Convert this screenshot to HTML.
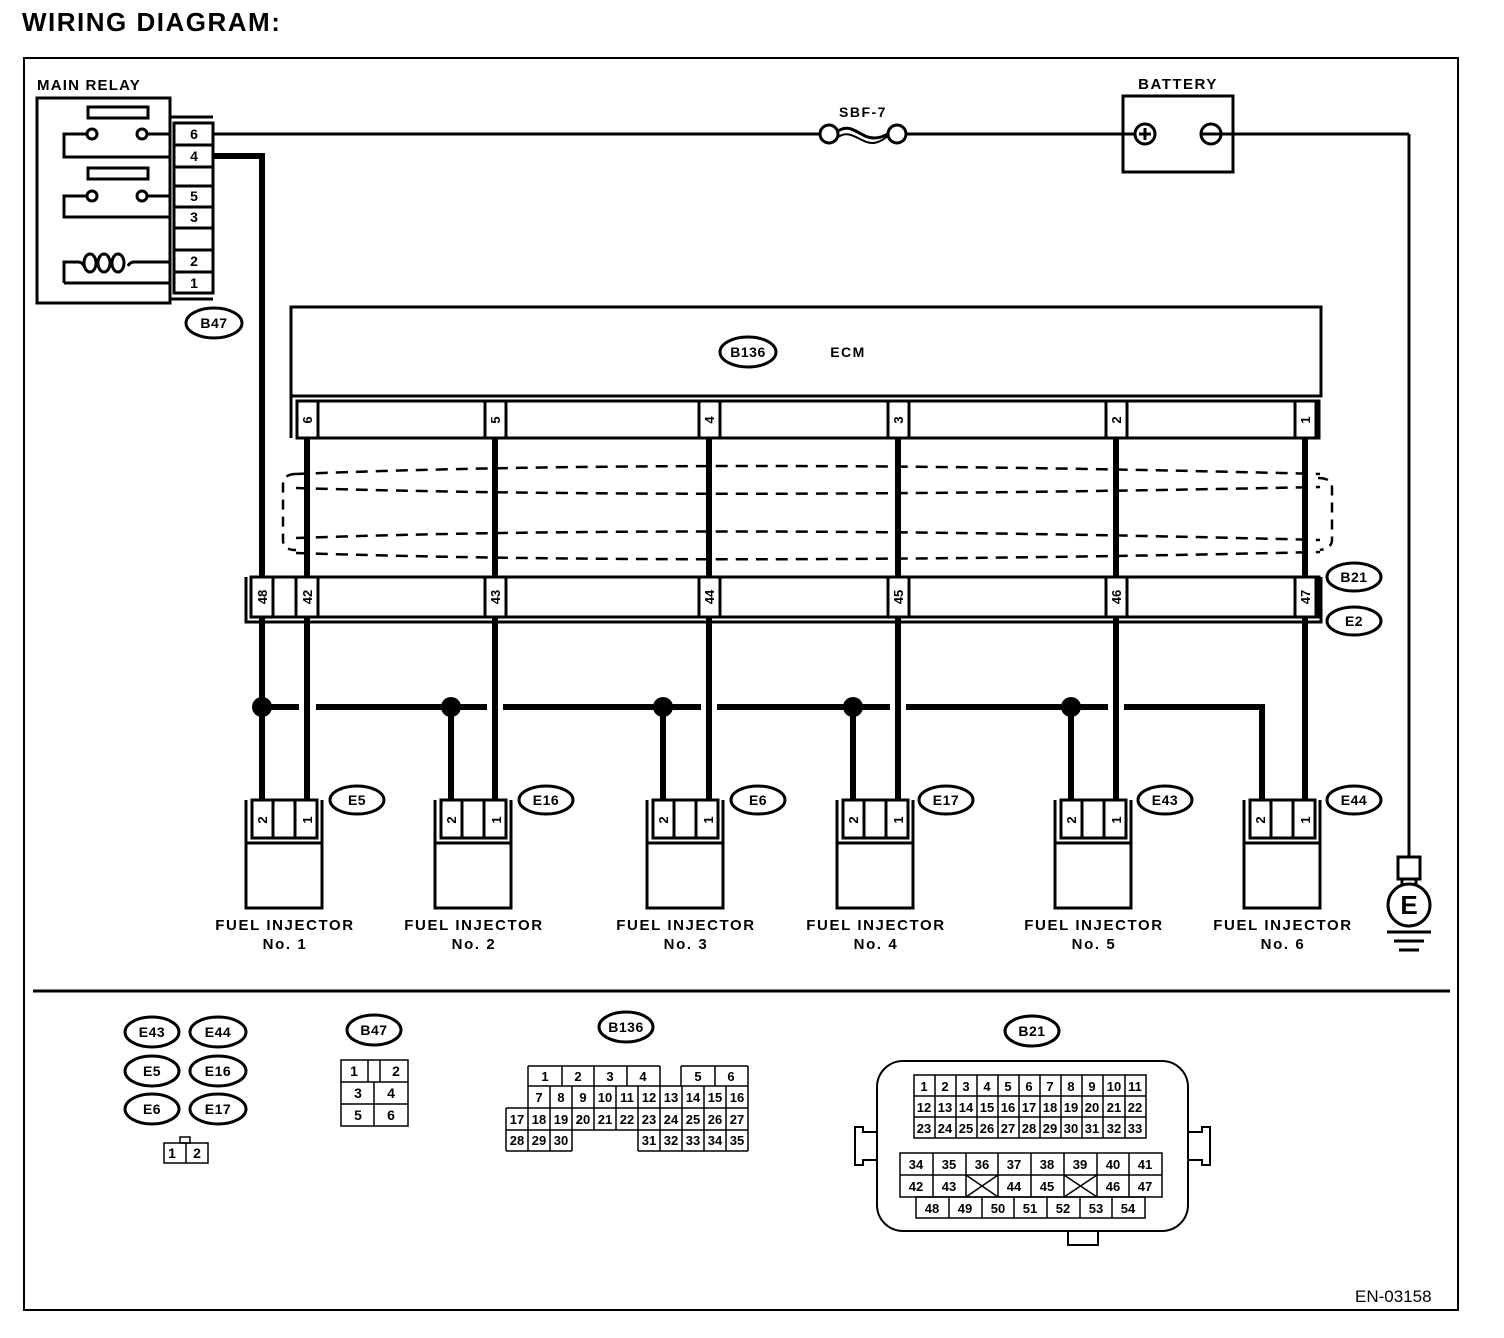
<!DOCTYPE html>
<html><head><meta charset="utf-8"><style>
html,body{margin:0;padding:0;background:#fff}
svg{display:block}
text{font-family:"Liberation Sans",Arial,sans-serif;font-weight:bold;fill:#000}
</style></head><body>
<svg width="1504" height="1338" viewBox="0 0 1504 1338" xmlns="http://www.w3.org/2000/svg">
<text x="22" y="31" font-size="26" letter-spacing="1.5">WIRING DIAGRAM:</text>
<rect x="24" y="58" width="1434" height="1252" fill="none" stroke="#000" stroke-width="2"/>
<line x1="33" y1="991" x2="1450" y2="991" stroke="#000" stroke-width="3"/>
<text x="1355" y="1302" font-size="17" style="font-weight:normal">EN-03158</text>

<g fill="none" stroke="#000" stroke-width="3">
<rect x="37" y="98" width="133" height="205"/>
<rect x="88" y="107" width="60" height="11"/>
<rect x="88" y="168" width="60" height="11"/>
<circle cx="92" cy="134" r="5"/><circle cx="142" cy="134" r="5"/>
<circle cx="92" cy="196" r="5"/><circle cx="142" cy="196" r="5"/>
<polyline points="87,134 64,134 64,157 170,157"/>
<line x1="147" y1="134" x2="170" y2="134"/>
<polyline points="87,196 64,196 64,217 170,217"/>
<line x1="147" y1="196" x2="170" y2="196"/>
<path d="M170,262 L134,262 Q130,262 128,266"/>
<path d="M64,283 L64,262 L78,262 Q82,262 84,266"/>
<ellipse cx="90" cy="263" rx="6" ry="9"/>
<ellipse cx="104" cy="263" rx="6" ry="9"/>
<ellipse cx="118" cy="263" rx="6" ry="9"/>
<line x1="64" y1="283" x2="170" y2="283"/>
<polyline points="170,117 213,117"/><polyline points="170,299 213,299"/>
<rect x="174" y="123" width="39" height="170"/>
<line x1="174" y1="145" x2="213" y2="145"/>
<line x1="174" y1="167" x2="213" y2="167"/>
<line x1="174" y1="186" x2="213" y2="186"/>
<line x1="174" y1="207" x2="213" y2="207"/>
<line x1="174" y1="228" x2="213" y2="228"/>
<line x1="174" y1="250" x2="213" y2="250"/>
<line x1="174" y1="272" x2="213" y2="272"/>
</g>
<text x="37" y="90" font-size="15" letter-spacing="1.2">MAIN RELAY</text>
<g font-size="14" text-anchor="middle">
<text x="194" y="139">6</text><text x="194" y="161">4</text>
<text x="194" y="201">5</text><text x="194" y="222">3</text>
<text x="194" y="266">2</text><text x="194" y="288">1</text>
</g>

<g fill="none" stroke="#000" stroke-width="3">
<line x1="213" y1="134" x2="820" y2="134"/>
<circle cx="829" cy="134" r="9"/><circle cx="897" cy="134" r="9"/>
<path d="M838,131 C852,122 860,138 874,138 C880,138 884,136 888,134"/>
<path d="M838,137 C852,128 860,144 874,143 C880,142 884,139 888,136" stroke-width="2"/>
<line x1="906" y1="134" x2="1135" y2="134"/>
<rect x="1123" y="96" width="110" height="76"/>
<circle cx="1145" cy="134" r="10"/>
<line x1="1139" y1="134" x2="1151" y2="134"/><line x1="1145" y1="128" x2="1145" y2="140"/>
<circle cx="1211" cy="134" r="10"/>
<line x1="1201" y1="134" x2="1409" y2="134"/>
<line x1="1409" y1="134" x2="1409" y2="857"/>
<rect x="1398" y="857" width="22" height="22"/>
<path d="M1402,879 L1402,885 M1416,879 L1416,885"/>
<circle cx="1409" cy="905" r="21"/>
<line x1="1387" y1="932" x2="1431" y2="932"/>
<line x1="1394" y1="941" x2="1424" y2="941"/>
<line x1="1399" y1="950" x2="1419" y2="950"/>
</g>
<text x="863" y="117" font-size="14" text-anchor="middle" letter-spacing="1.5">SBF-7</text>
<text x="1178" y="89" font-size="15" text-anchor="middle" letter-spacing="1.5">BATTERY</text>
<text x="1409" y="914" font-size="26" text-anchor="middle">E</text>

<polyline points="213,156 262,156 262,577" fill="none" stroke="#000" stroke-width="6"/>

<g fill="none" stroke="#000" stroke-width="3">
<ellipse cx="214" cy="323" rx="28" ry="15"/>
<ellipse cx="748" cy="352" rx="28" ry="15"/>
<ellipse cx="1354" cy="577" rx="27" ry="14"/>
<ellipse cx="1354" cy="621" rx="27" ry="14"/>
<ellipse cx="357" cy="800" rx="27" ry="14"/>
<ellipse cx="546" cy="800" rx="27" ry="14"/>
<ellipse cx="758" cy="800" rx="27" ry="14"/>
<ellipse cx="946" cy="800" rx="27" ry="14"/>
<ellipse cx="1165" cy="800" rx="27" ry="14"/>
<ellipse cx="1354" cy="800" rx="27" ry="14"/>
</g>
<g font-size="14" text-anchor="middle" letter-spacing="0.5">
<text x="214" y="328">B47</text>
<text x="748" y="357">B136</text>
<text x="848" y="357" letter-spacing="1.5">ECM</text>
<text x="1354" y="582">B21</text>
<text x="1354" y="626">E2</text>
<text x="357" y="805">E5</text>
<text x="546" y="805">E16</text>
<text x="758" y="805">E6</text>
<text x="946" y="805">E17</text>
<text x="1165" y="805">E43</text>
<text x="1354" y="805">E44</text>
</g>

<g fill="none" stroke="#000" stroke-width="3">
<rect x="291" y="307" width="1030" height="89"/>
<polyline points="291,396 291,438"/>
<line x1="291" y1="396" x2="1321" y2="396"/>
<rect x="297" y="401" width="1022" height="37"/>
<rect x="297" y="401" width="21" height="37"/>
<rect x="485" y="401" width="21" height="37"/>
<rect x="699" y="401" width="21" height="37"/>
<rect x="888" y="401" width="21" height="37"/>
<rect x="1106" y="401" width="21" height="37"/>
<rect x="1295" y="401" width="21" height="37"/>
</g>
<g font-size="13" text-anchor="middle">
<text transform="translate(312,420) rotate(-90)">6</text>
<text transform="translate(500,420) rotate(-90)">5</text>
<text transform="translate(714,420) rotate(-90)">4</text>
<text transform="translate(903,420) rotate(-90)">3</text>
<text transform="translate(1121,420) rotate(-90)">2</text>
<text transform="translate(1310,420) rotate(-90)">1</text>
</g>

<g stroke="#000" stroke-width="6">
<line x1="307" y1="438" x2="307" y2="800"/>
<line x1="495" y1="438" x2="495" y2="800"/>
<line x1="709" y1="438" x2="709" y2="800"/>
<line x1="898" y1="438" x2="898" y2="800"/>
<line x1="1116" y1="438" x2="1116" y2="800"/>
<line x1="1305" y1="438" x2="1305" y2="800"/>
<line x1="262" y1="577" x2="262" y2="800"/>
</g>

<g fill="none" stroke="#000" stroke-width="2.5" stroke-dasharray="12,8">
<path d="M296,474 Q700,458 1320,474"/>
<path d="M296,488 Q700,500 1320,487"/>
<path d="M296,538 Q700,524 1320,540"/>
<path d="M296,553 Q700,566 1320,552"/>
<path d="M296,474 Q283,474 283,485 L283,540 Q283,550 296,550" stroke-dasharray="10,7"/>
<path d="M1318,478 Q1332,478 1332,488 L1332,540 Q1332,548 1320,550" stroke-dasharray="10,7"/>
</g>

<g fill="none" stroke="#000" stroke-width="3">
<polyline points="246,577 246,622 1321,622 1321,577"/>
<rect x="251" y="577" width="1068" height="40" fill="#fff"/>
<rect x="251" y="577" width="22" height="40"/>
<rect x="273" y="577" width="23" height="40"/>
<rect x="296" y="577" width="22" height="40"/>
<rect x="485" y="577" width="21" height="40"/>
<rect x="699" y="577" width="21" height="40"/>
<rect x="888" y="577" width="21" height="40"/>
<rect x="1106" y="577" width="21" height="40"/>
<rect x="1295" y="577" width="21" height="40"/>
</g>
<g font-size="13" text-anchor="middle">
<text transform="translate(267,597) rotate(-90)">48</text>
<text transform="translate(312,597) rotate(-90)">42</text>
<text transform="translate(500,597) rotate(-90)">43</text>
<text transform="translate(714,597) rotate(-90)">44</text>
<text transform="translate(903,597) rotate(-90)">45</text>
<text transform="translate(1121,597) rotate(-90)">46</text>
<text transform="translate(1310,597) rotate(-90)">47</text>
</g>

<g fill="none" stroke="#000" stroke-width="6">
<line x1="262" y1="707" x2="299" y2="707"/>
<line x1="316" y1="707" x2="487" y2="707"/>
<line x1="503" y1="707" x2="701" y2="707"/>
<line x1="717" y1="707" x2="890" y2="707"/>
<line x1="906" y1="707" x2="1108" y2="707"/>
<polyline points="1124,707 1262,707 1262,800"/>
<line x1="451" y1="707" x2="451" y2="800"/>
<line x1="663" y1="707" x2="663" y2="800"/>
<line x1="853" y1="707" x2="853" y2="800"/>
<line x1="1071" y1="707" x2="1071" y2="800"/>
</g>
<g fill="#000">
<circle cx="262" cy="707" r="10"/><circle cx="451" cy="707" r="10"/>
<circle cx="663" cy="707" r="10"/><circle cx="853" cy="707" r="10"/>
<circle cx="1071" cy="707" r="10"/>
</g>

<defs>
<g id="inj" fill="none" stroke="#000" stroke-width="3">
<polyline points="0,800 0,908 76,908 76,800"/>
<line x1="0" y1="843" x2="76" y2="843"/>
<rect x="6" y="800" width="65" height="38" fill="#fff"/>
<line x1="27" y1="800" x2="27" y2="838"/>
<line x1="49" y1="800" x2="49" y2="838"/>
</g>
</defs>
<use href="#inj" x="246"/><use href="#inj" x="435"/><use href="#inj" x="647"/>
<use href="#inj" x="837"/><use href="#inj" x="1055"/><use href="#inj" x="1244"/>
<g font-size="13" text-anchor="middle">
<text transform="translate(267,820) rotate(-90)">2</text><text transform="translate(312,820) rotate(-90)">1</text>
<text transform="translate(456,820) rotate(-90)">2</text><text transform="translate(501,820) rotate(-90)">1</text>
<text transform="translate(668,820) rotate(-90)">2</text><text transform="translate(713,820) rotate(-90)">1</text>
<text transform="translate(858,820) rotate(-90)">2</text><text transform="translate(903,820) rotate(-90)">1</text>
<text transform="translate(1076,820) rotate(-90)">2</text><text transform="translate(1121,820) rotate(-90)">1</text>
<text transform="translate(1265,820) rotate(-90)">2</text><text transform="translate(1310,820) rotate(-90)">1</text>
</g>
<g font-size="15" text-anchor="middle" letter-spacing="1.6">
<text x="285" y="930">FUEL INJECTOR</text><text x="285" y="949">No. 1</text>
<text x="474" y="930">FUEL INJECTOR</text><text x="474" y="949">No. 2</text>
<text x="686" y="930">FUEL INJECTOR</text><text x="686" y="949">No. 3</text>
<text x="876" y="930">FUEL INJECTOR</text><text x="876" y="949">No. 4</text>
<text x="1094" y="930">FUEL INJECTOR</text><text x="1094" y="949">No. 5</text>
<text x="1283" y="930">FUEL INJECTOR</text><text x="1283" y="949">No. 6</text>
</g>

<g fill="none" stroke="#000" stroke-width="3">
<ellipse cx="152" cy="1032" rx="27" ry="15"/><ellipse cx="218" cy="1032" rx="28" ry="15"/>
<ellipse cx="152" cy="1071" rx="27" ry="15"/><ellipse cx="218" cy="1071" rx="28" ry="15"/>
<ellipse cx="152" cy="1109" rx="27" ry="15"/><ellipse cx="218" cy="1109" rx="28" ry="15"/>
<ellipse cx="374" cy="1030" rx="27" ry="15"/>
<ellipse cx="626" cy="1027" rx="27" ry="15"/>
<ellipse cx="1032" cy="1031" rx="27" ry="15"/>
</g>
<g font-size="14" text-anchor="middle" letter-spacing="0.5">
<text x="152" y="1037">E43</text><text x="218" y="1037">E44</text>
<text x="152" y="1076">E5</text><text x="218" y="1076">E16</text>
<text x="152" y="1114">E6</text><text x="218" y="1114">E17</text>
<text x="374" y="1035">B47</text>
<text x="626" y="1032">B136</text>
<text x="1032" y="1036">B21</text>
</g>

<g fill="none" stroke="#000" stroke-width="1.5">
<rect x="180" y="1137" width="10" height="6"/>
<rect x="164" y="1143" width="44" height="20"/><line x1="186" y1="1143" x2="186" y2="1163"/>
<rect x="341" y="1060" width="67" height="66"/>
<line x1="341" y1="1082" x2="408" y2="1082"/><line x1="341" y1="1104" x2="408" y2="1104"/>
<line x1="374" y1="1082" x2="374" y2="1126"/>
<line x1="368" y1="1060" x2="368" y2="1082"/><line x1="380" y1="1060" x2="380" y2="1082"/>
<path d="M528,1066 H660 M681,1066 H748 M528,1086 H748 M506,1108 H748 M506,1130 H748 M506,1151 H572 M638,1151 H748"/>
<path d="M528,1066 V1108 M562,1066 V1086 M594,1066 V1086 M627,1066 V1086 M660,1066 V1086 M681,1066 V1086 M715,1066 V1086 M748,1066 V1151"/>
<path d="M550,1086 V1108 M572,1086 V1108 M594,1086 V1108 M616,1086 V1108 M638,1086 V1108 M660,1086 V1108 M682,1086 V1108 M704,1086 V1108 M726,1086 V1108"/>
<path d="M506,1108 V1151 M528,1108 V1151 M550,1108 V1151 M572,1108 V1151 M594,1108 V1130 M616,1108 V1130 M638,1108 V1151 M660,1108 V1151 M682,1108 V1151 M704,1108 V1151 M726,1108 V1151"/>
</g>
<g font-size="14" text-anchor="middle" style="font-weight:normal">
<text x="172" y="1158">1</text><text x="197" y="1158">2</text>
<text x="354" y="1076">1</text><text x="396" y="1076">2</text>
<text x="358" y="1098">3</text><text x="391" y="1098">4</text>
<text x="358" y="1120">5</text><text x="391" y="1120">6</text>
</g>
<g font-size="13" text-anchor="middle" style="font-weight:normal">
<text x="545" y="1081">1</text><text x="578" y="1081">2</text><text x="610" y="1081">3</text><text x="643" y="1081">4</text><text x="698" y="1081">5</text><text x="731" y="1081">6</text>
<text x="539" y="1102">7</text><text x="561" y="1102">8</text><text x="583" y="1102">9</text><text x="605" y="1102">10</text><text x="627" y="1102">11</text><text x="649" y="1102">12</text><text x="671" y="1102">13</text><text x="693" y="1102">14</text><text x="715" y="1102">15</text><text x="737" y="1102">16</text>
<text x="517" y="1124">17</text><text x="539" y="1124">18</text><text x="561" y="1124">19</text><text x="583" y="1124">20</text><text x="605" y="1124">21</text><text x="627" y="1124">22</text><text x="649" y="1124">23</text><text x="671" y="1124">24</text><text x="693" y="1124">25</text><text x="715" y="1124">26</text><text x="737" y="1124">27</text>
<text x="517" y="1145">28</text><text x="539" y="1145">29</text><text x="561" y="1145">30</text><text x="649" y="1145">31</text><text x="671" y="1145">32</text><text x="693" y="1145">33</text><text x="715" y="1145">34</text><text x="737" y="1145">35</text>
</g>

<g fill="none" stroke="#000" stroke-width="2">
<rect x="877" y="1061" width="311" height="170" rx="26"/>
<polyline points="877,1132 863,1132 863,1127 855,1127 855,1165 863,1165 863,1160 877,1160"/>
<polyline points="1188,1132 1202,1132 1202,1127 1210,1127 1210,1165 1202,1165 1202,1160 1188,1160"/>
<polyline points="1068,1231 1068,1245 1098,1245 1098,1231"/>
</g>
<g fill="none" stroke="#000" stroke-width="1.5">
<rect x="914" y="1075" width="232" height="63"/>
<path d="M914,1096 H1146 M914,1117 H1146"/>
<path d="M935,1075 V1138 M956,1075 V1138 M977,1075 V1138 M998,1075 V1138 M1019,1075 V1138 M1040,1075 V1138 M1061,1075 V1138 M1082,1075 V1138 M1103,1075 V1138 M1125,1075 V1138"/>
<rect x="900" y="1153" width="262" height="44"/>
<path d="M900,1175 H1162"/>
<path d="M933,1153 V1197 M966,1153 V1197 M998,1153 V1197 M1031,1153 V1197 M1064,1153 V1197 M1097,1153 V1197 M1129,1153 V1197"/>
<path d="M966,1175 L998,1197 M998,1175 L966,1197 M1064,1175 L1097,1197 M1097,1175 L1064,1197"/>
<rect x="916" y="1197" width="229" height="21"/>
<path d="M949,1197 V1218 M982,1197 V1218 M1014,1197 V1218 M1047,1197 V1218 M1080,1197 V1218 M1112,1197 V1218"/>
</g>
<g font-size="13" text-anchor="middle" style="font-weight:normal">
<text x="924" y="1091">1</text><text x="945" y="1091">2</text><text x="966" y="1091">3</text><text x="987" y="1091">4</text><text x="1008" y="1091">5</text><text x="1029" y="1091">6</text><text x="1050" y="1091">7</text><text x="1071" y="1091">8</text><text x="1092" y="1091">9</text><text x="1114" y="1091">10</text><text x="1135" y="1091">11</text>
<text x="924" y="1112">12</text><text x="945" y="1112">13</text><text x="966" y="1112">14</text><text x="987" y="1112">15</text><text x="1008" y="1112">16</text><text x="1029" y="1112">17</text><text x="1050" y="1112">18</text><text x="1071" y="1112">19</text><text x="1092" y="1112">20</text><text x="1114" y="1112">21</text><text x="1135" y="1112">22</text>
<text x="924" y="1133">23</text><text x="945" y="1133">24</text><text x="966" y="1133">25</text><text x="987" y="1133">26</text><text x="1008" y="1133">27</text><text x="1029" y="1133">28</text><text x="1050" y="1133">29</text><text x="1071" y="1133">30</text><text x="1092" y="1133">31</text><text x="1114" y="1133">32</text><text x="1135" y="1133">33</text>
<text x="916" y="1169">34</text><text x="949" y="1169">35</text><text x="982" y="1169">36</text><text x="1014" y="1169">37</text><text x="1047" y="1169">38</text><text x="1080" y="1169">39</text><text x="1113" y="1169">40</text><text x="1145" y="1169">41</text>
<text x="916" y="1191">42</text><text x="949" y="1191">43</text><text x="1014" y="1191">44</text><text x="1047" y="1191">45</text><text x="1113" y="1191">46</text><text x="1145" y="1191">47</text>
<text x="932" y="1213">48</text><text x="965" y="1213">49</text><text x="998" y="1213">50</text><text x="1030" y="1213">51</text><text x="1063" y="1213">52</text><text x="1096" y="1213">53</text><text x="1128" y="1213">54</text>
</g>
</svg>
</body></html>
